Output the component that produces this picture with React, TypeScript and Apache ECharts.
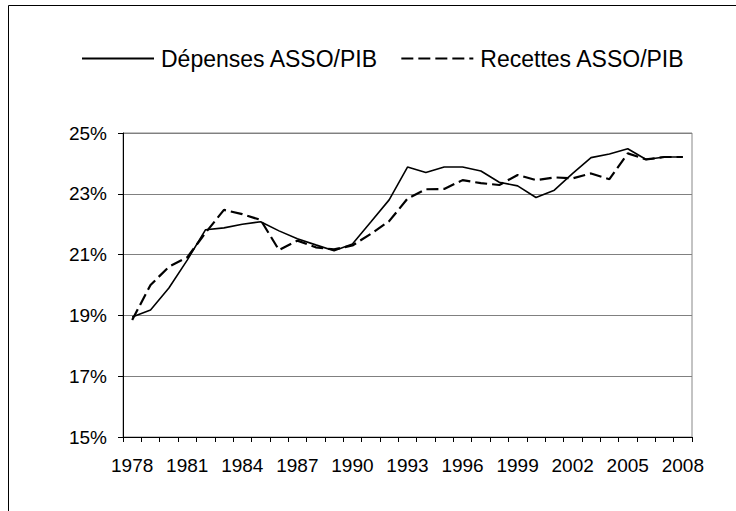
import React, { useEffect, useRef } from "react";
import * as echarts from "echarts";

const years = [
  "1978", "1979", "1980", "1981", "1982", "1983", "1984", "1985", "1986", "1987",
  "1988", "1989", "1990", "1991", "1992", "1993", "1994", "1995", "1996", "1997",
  "1998", "1999", "2000", "2001", "2002", "2003", "2004", "2005", "2006", "2007", "2008",
];

const depenses = [
  18.95, 19.18, 19.9, 20.82, 21.82, 21.88, 22.0, 22.08, 21.78, 21.52,
  21.32, 21.13, 21.35, 22.07, 22.8, 23.88, 23.7, 23.88, 23.88, 23.75,
  23.38, 23.26, 22.88, 23.12, 23.67, 24.19, 24.31, 24.48, 24.13, 24.21, 24.21,
];

const recettes = [
  18.85, 20.0, 20.6, 20.91, 21.72, 22.47, 22.33, 22.14, 21.15, 21.46,
  21.24, 21.17, 21.3, 21.68, 22.1, 22.84, 23.15, 23.16, 23.45, 23.35,
  23.29, 23.62, 23.45, 23.54, 23.51, 23.67, 23.48, 24.33, 24.13, 24.21, 24.21,
];

const seriesNames = ["Dépenses ASSO/PIB", "Recettes ASSO/PIB"];

const FONT = "'Liberation Sans', Arial, sans-serif";

export default function App() {
  const ref = useRef<HTMLDivElement>(null);

  useEffect(() => {
    if (!ref.current) return;
    const chart = echarts.init(ref.current, undefined, { renderer: "svg" });
    chart.setOption({
      animation: false,
      backgroundColor: "#ffffff",
      textStyle: { fontFamily: FONT },
      graphic: [
        {
          type: "rect",
          shape: { x: 8.5, y: 5.5, width: 900, height: 700 },
          style: { fill: "none", stroke: "#000000", lineWidth: 1 },
          silent: true,
        },
      ],
      legend: {
        left: 76,
        top: 42,
        itemWidth: 72,
        itemHeight: 14,
        itemGap: 22,
        itemStyle: { opacity: 0 },
        textStyle: { fontSize: 23, color: "#000000", fontFamily: FONT, padding: [0, 0, 0, 2] },
        data: seriesNames,
      },
      grid: {
        left: 123,
        right: 44,
        top: 133,
        bottom: 74,
        show: true,
        borderColor: "#888888",
        borderWidth: 1,
      },
      xAxis: {
        type: "category",
        data: years,
        boundaryGap: true,
        axisLine: { lineStyle: { color: "#000000", width: 1 } },
        axisTick: { show: true, interval: 0, length: 5, lineStyle: { color: "#000000" } },
        axisLabel: {
          interval: 2,
          fontSize: 19,
          color: "#000000",
          margin: 19,
          fontFamily: FONT,
        },
        splitLine: { show: false },
      },
      yAxis: {
        type: "value",
        min: 15,
        max: 25,
        interval: 2,
        axisLine: { show: true, lineStyle: { color: "#000000", width: 1 } },
        axisTick: { show: true, length: 5, lineStyle: { color: "#000000" } },
        axisLabel: {
          formatter: "{value}%",
          fontSize: 19,
          color: "#000000",
          margin: 16,
          fontFamily: FONT,
        },
        splitLine: { show: true, lineStyle: { color: "#808080", width: 1 } },
      },
      series: [
        {
          name: seriesNames[0],
          type: "line",
          data: depenses,
          symbol: "none",
          lineStyle: { color: "#000000", width: 1.6, type: "solid" },
          itemStyle: { color: "#000000" },
        },
        {
          name: seriesNames[1],
          type: "line",
          data: recettes,
          symbol: "none",
          lineStyle: { color: "#000000", width: 2.2, type: [12, 5] },
          itemStyle: { color: "#000000" },
        },
      ],
    });
    return () => chart.dispose();
  }, []);

  return (
    <div
      ref={ref}
      style={{ position: "absolute", left: 0, top: 0, width: 736, height: 511, background: "#fff" }}
    />
  );
}
